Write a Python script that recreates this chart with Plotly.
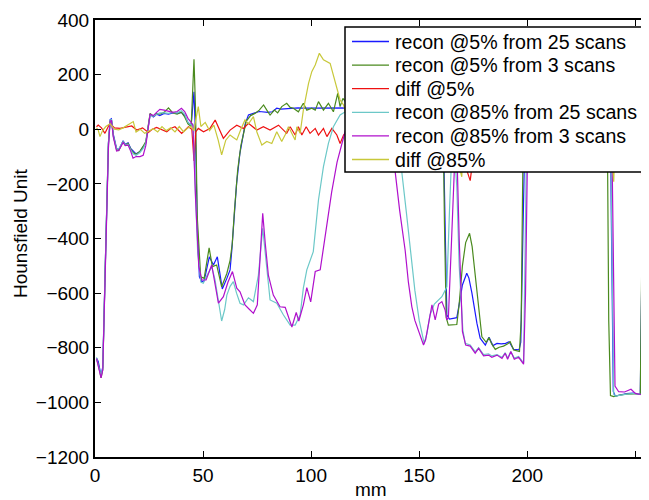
import plotly.graph_objects as go

# ---- data (x in mm, y in Hounsfield units) ----
recon5_25 = [(0.7,-838),(1.5,-850),(2.8,-902),(3.6,-870),(4.9,-450),(6.2,-50),(7.0,35),(7.6,38),(8.5,-20),(10,-70),(11,-75),(12,-60),(13,-42),(14,-55),(15.3,-50),(16.5,-70),(17.6,-80),(19,-90),(20.8,-82),(22.3,-64),(23.5,-50),(25.5,55),(27,45),(28.5,55),(30,50),(32,58),(34,55),(36,60),(38,58),(40,62),(41.5,50),(43,25),(44.5,15),(45.8,137),(46.5,-20),(47.3,-350),(48.3,-540),(49.4,-558),(50.5,-555),(52.9,-467),(54.8,-497),(56.6,-467),(58.9,-585),(61,-546),(62.5,-515),(63.3,-443),(64,-370),(65.5,-200),(67,-90),(68,-39),(69.5,20),(71,52),(72.5,55),(74,60),(76,65),(78,64),(80,62),(82,64),(84.1,77),(86,74),(88,75),(90,77),(92,76),(94,78),(96,77),(98,77),(100,76),(102,78),(104,77),(106,76),(108,78),(110,77),(112,76),(114,77),(116,76),(120,78),(125,74),(130,76),(135,75),(140,72),(145,74),(150,78),(155,73),(160,68),(161,60),(162,-400),(162.8,-680),(164,-695),(167.4,-690),(168.3,-650),(170,-570),(172,-527),(173,-545),(174.4,-600),(176.7,-710),(178.2,-765),(180.6,-790),(182.3,-762),(184.1,-792),(186,-784),(188,-786),(190,-784),(191.6,-778),(193.7,-806),(196.2,-808),(197,-780),(198,-300),(199,20),(205,40),(215,50),(225,45),(235,40),(238.4,30),(239,-500),(239.8,-960),(240.7,-977),(243,-972),(246,-968),(249,-966),(251.5,-967),(252.3,-970),(253,-527),(253.8,-980)]

recon5_3 = [(0.7,-840),(1.5,-860),(2.8,-910),(3.6,-880),(4.9,-455),(6.2,-55),(7.0,30),(7.6,35),(8.5,-25),(10,-75),(11,-78),(12,-62),(13,-45),(14,-58),(15.3,-52),(16.5,-72),(17.6,-85),(19,-92),(20.8,-80),(22.3,-62),(23.5,-45),(25.5,58),(27,48),(28.5,58),(30,55),(32,62),(34,78),(36,60),(38,55),(40,62),(41.5,45),(43,20),(44.5,10),(45.8,256),(46.5,80),(47.3,-320),(48.9,-540),(50.5,-546),(52.8,-434),(54.3,-503),(56.3,-497),(58.6,-577),(61,-528),(62.5,-480),(63.5,-420),(64.5,-300),(66,-150),(67.5,-60),(68.5,-20),(70,30),(72,50),(74,58),(76,70),(78,89),(79.5,70),(81,52),(83,70),(84.5,60),(86.4,83),(88.7,95),(90.3,80),(91.8,77),(94.1,64),(96.4,95),(98,70),(100.3,77),(101.9,70),(103.4,101),(105.7,70),(108,95),(110.3,64),(112.3,131),(113.4,83),(114.7,113),(116,100),(118,80),(121,95),(124,70),(128,90),(132,75),(136,92),(140,70),(145,88),(150,75),(155,90),(159,70),(161,60),(161.7,-350),(162.5,-690),(163.5,-717),(167.4,-715),(168.5,-640),(170,-500),(171.5,-415),(173.3,-381),(174.5,-430),(176,-540),(177.5,-660),(179,-760),(181,-780),(182.3,-763),(183.5,-785),(185.2,-806),(187,-798),(189,-794),(191,-785),(192.1,-778),(193.7,-808),(196.4,-814),(197.2,-700),(198,-100),(199,60),(210,70),(220,60),(230,55),(237,50),(237.7,-700),(238.5,-975),(240,-979),(243,-973),(246,-970),(249,-968),(252.3,-968),(253.2,-326),(254,-1022)]

diff5 = [(0.7,9),(1.5,15),(3,5),(4.6,-15),(6.9,22),(9,5),(11.6,3),(14,8),(17,12),(19.3,-3),(22,5),(24.7,-12),(26.5,0),(28.5,7),(31,-2),(33.2,-9),(35,3),(37,9),(40.1,-15),(43.2,9),(44.8,0),(45.8,-116),(46.6,-10),(47.8,3),(50.2,-9),(53.2,3),(55.6,34),(57.5,0),(59.4,-33),(62.5,-3),(65.6,15),(68.7,3),(71,22),(74.9,-3),(77.9,9),(81,-3),(84.9,15),(88.7,-15),(90.3,9),(92.6,-21),(94.1,9),(95.7,-21),(97.7,9),(99.5,-15),(101.9,3),(103.4,-21),(105.7,3),(107.3,-27),(109.6,3),(111.9,-21),(113.4,-52),(115,-21),(118,5),(125,-10),(132,8),(140,-5),(150,6),(158,-4),(161.5,120),(162.5,10),(165,25),(168,-10),(170,-70),(172,-150),(173.6,-188),(175,-100),(177,-40),(180,-10),(185,10),(190,0),(194,2),(197.2,-60),(198,-20),(200,5),(210,-8),(220,6),(230,-5),(237,3),(237.7,150),(238.5,20),(240,2),(245,0),(252.3,-2),(253,-198),(253.8,-10)]

recon85_25 = [(0.7,-835),(1.5,-865),(2.8,-900),(3.6,-875),(4.9,-460),(6.2,-60),(7.0,33),(7.6,35),(8.5,-25),(10,-72),(11,-72),(12,-58),(13,-45),(14,-55),(15.3,-55),(16.5,-75),(17.6,-90),(19,-95),(20.8,-85),(22.3,-70),(23.5,-50),(25.5,50),(27,48),(28.5,55),(30,60),(32,60),(34,58),(36,62),(38,60),(40,68),(41.5,55),(43,25),(44.5,15),(45.3,20),(46.2,-150),(47.5,-450),(49,-560),(50.1,-564),(51.5,-540),(54,-503),(55.5,-550),(57.1,-631),(58.6,-702),(60,-660),(61,-607),(62.5,-575),(64,-558),(65.5,-600),(67.1,-637),(68.7,-643),(71,-617),(73.3,-631),(75.6,-534),(77.6,-363),(79.5,-520),(81,-625),(84.1,-637),(87.2,-680),(90.3,-717),(92.6,-717),(94.9,-680),(96.4,-582),(98,-515),(101,-448),(103.4,-259),(105.7,-137),(108,-52),(110.3,9),(113.4,52),(116,65),(120,70),(125,68),(130,72),(135,66),(139,62),(140.5,20),(142,-160),(144,-300),(145.8,-442),(148,-590),(150,-700),(152.3,-784),(153.5,-750),(155,-680),(157,-640),(159,-625),(160.5,-613),(162,-590),(162.8,-577),(164,-300),(165,-100),(166.5,-100),(167.4,-210),(168.5,-500),(170.2,-735),(171.3,-784),(173.6,-790),(175.9,-815),(177.5,-800),(179.8,-825),(182.1,-822),(183.6,-830),(186,-825),(188.3,-835),(189.8,-818),(190.9,-838),(192.4,-815),(194,-838),(196,-832),(198.3,-855),(198.8,-600),(199.5,-150),(200.5,30),(210,50),(220,45),(230,50),(238.5,40),(239.2,-500),(240,-970),(240.7,-977),(243,-973),(246,-970),(249,-968),(251.5,-968),(253.8,-975)]

recon85_3 = [(0.7,-840),(1.5,-872),(2.8,-910),(3.6,-880),(4.9,-470),(6.2,-70),(7.0,30),(7.6,32),(8.5,-30),(10,-80),(11,-78),(12,-60),(13,-48),(14,-60),(15.3,-58),(16.5,-80),(17.6,-106),(19,-100),(20.8,-100),(22.3,-95),(23.5,-60),(25.5,55),(27,50),(28.5,62),(30,73),(32,70),(34,65),(36,62),(38,65),(40,77),(41.5,65),(43,40),(44.5,25),(45.3,15),(46.5,-250),(48,-500),(49.4,-552),(51.4,-552),(54,-497),(55.6,-570),(57.1,-637),(59.4,-613),(61.5,-560),(63.6,-521),(65.6,-582),(67.1,-595),(69.4,-643),(71.5,-660),(73.3,-674),(75.1,-643),(76.5,-450),(77.6,-308),(78.8,-420),(80.2,-534),(82.5,-607),(85.6,-650),(88,-652),(89.5,-690),(91.1,-724),(93.1,-671),(94.3,-702),(96.4,-643),(98,-580),(99.8,-632),(101.9,-521),(104.2,-515),(106,-420),(107.5,-330),(109.5,-230),(112,-120),(114.5,-40),(116,0),(118,50),(122,65),(128,70),(133,62),(137.5,50),(138.9,-157),(141,-300),(143.5,-443),(145,-560),(146.6,-650),(148,-700),(150,-745),(152,-790),(153,-770),(154.5,-700),(155.9,-643),(157.4,-698),(159,-640),(160.5,-631),(162,-662),(162.8,-698),(163.5,-690),(165,-400),(166.5,-100),(167.5,-100),(168.5,-400),(170,-740),(171.5,-790),(173.6,-794),(175.9,-820),(177.5,-802),(179.8,-830),(182.1,-827),(183.6,-835),(186,-827),(188.3,-839),(189.8,-820),(190.9,-842),(192.4,-814),(194,-842),(196,-835),(198.3,-860),(199.2,-600),(200,-150),(201,30),(210,60),(220,50),(230,55),(239,45),(239.8,-500),(240.6,-940),(242.3,-961),(245,-962),(248,-952),(250,-967),(253.8,-973)]

diff85 = [(0.7,5),(1.5,-3),(2.3,-27),(3.5,-5),(5,10),(7,20),(9,0),(11,-2),(13,5),(15,15),(17.7,28),(19,-10),(21,0),(23,-15),(25,-5),(27,2),(29,-10),(31,10),(33,-5),(35,5),(37,-10),(39,10),(41,-10),(43,5),(44.5,10),(45.8,-5),(46.5,30),(47.8,83),(49,10),(51,25),(53,-5),(55,15),(57,-40),(58.6,-94),(60.5,-40),(62.5,-21),(64,-30),(65.6,-39),(67.5,0),(69.4,34),(71,20),(73.3,46),(74.9,-10),(77.2,-58),(79.5,-45),(81.8,-52),(84.1,-9),(86.4,-45),(88,-20),(89.5,9),(90.3,-3),(92.6,-39),(93.4,9),(94.9,-15),(96.4,70),(98.8,168),(100.3,211),(101.9,235),(103.8,278),(105.7,254),(108.8,241),(111.9,156),(113.4,107),(115,89),(117,30),(120,-10),(125,15),(130,-5),(135,10),(138.5,20),(140,180),(142,300),(144,220),(146.6,200),(149,40),(152,6),(155,-30),(158,40),(161,30),(162.8,121),(164,300),(166,0),(167.4,-100),(169.7,-174),(170.5,20),(172,10),(175,5),(180,5),(185,0),(190,5),(195,5),(198.3,5),(199,250),(200,100),(201,0),(210,-10),(220,0),(230,-5),(238,0),(239.2,-100),(240,-192),(240.7,-20),(243,-12),(248,-16),(252,0),(253.8,-2)]

series_names = ["recon @5% from 25 scans", "recon @5% from 3 scans", "diff @5%",
                "recon @85% from 25 scans", "recon @85% from 3 scans", "diff @85%"]
series_data = [recon5_25, recon5_3, diff5, recon85_25, recon85_3, diff85]
series_colors = ["#1a1aff", "#4a8a1e", "#ee1111", "#6cc8c8", "#b010cc", "#c8c83a"]

x_ticks = [0, 50, 100, 150, 200, 250]
y_ticks = [-1200, -1000, -800, -600, -400, -200, 0, 200, 400]

FONT = "Liberation Sans, Arial, Helvetica, sans-serif"

# The page body has an 8px default margin, so the figure is drawn 8px smaller
# and all layout positions below are given in window pixels minus that offset.
OFF = 8
W, H = 649 - OFF, 500 - OFF
ML, MR, MT, MB = 95 - OFF, 2, 20 - OFF, 43
PW, PH = W - ML - MR, H - MT - MB


def px_x(px):
    return (px - OFF - ML) / PW


def px_y(py):
    return (H - MB - (py - OFF)) / PH


fig = go.Figure()
for name, pts, col in zip(series_names, series_data, series_colors):
    fig.add_trace(go.Scatter(
        x=[p[0] for p in pts], y=[p[1] for p in pts], name=name,
        mode="lines", line=dict(color=col, width=1.2), showlegend=False))

axis_common = dict(showline=True, linecolor="black", linewidth=2, mirror="ticks",
                   ticks="inside", ticklen=6, tickwidth=1.3, tickcolor="black",
                   showgrid=False, zeroline=False, automargin=False,
                   tickfont=dict(family=FONT, size=19, color="black"))

# legend drawn as a box with sample lines and text (matching MATLAB spacing)
shapes = [dict(type="rect", xref="paper", yref="paper",
               x0=px_x(345), x1=px_x(642), y0=px_y(172), y1=px_y(27),
               fillcolor="white", line=dict(color="black", width=1.5), layer="above")]
annotations = []
for i, (name, col) in enumerate(zip(series_names, series_colors)):
    cy = 41.5 + 23.6 * i
    shapes.append(dict(type="line", xref="paper", yref="paper",
                       x0=px_x(352), x1=px_x(389), y0=px_y(cy), y1=px_y(cy),
                       line=dict(color=col, width=1.3), layer="above"))
    annotations.append(dict(xref="paper", yref="paper", x=px_x(393), y=px_y(cy),
                            xanchor="left", yanchor="middle", text=name, showarrow=False,
                            font=dict(family=FONT, size=19.6, color="black")))

annotations.append(dict(xref="paper", yref="paper", x=px_x(371), y=px_y(489),
                        xanchor="center", yanchor="middle", text="mm", showarrow=False,
                        font=dict(family=FONT, size=19, color="black")))
annotations.append(dict(xref="paper", yref="paper", x=px_x(20), y=px_y(233),
                        xanchor="center", yanchor="middle", text="Hounsfield Unit",
                        textangle=-90, showarrow=False,
                        font=dict(family=FONT, size=19, color="black")))

fig.update_layout(
    width=W, height=H,
    margin=dict(l=ML, r=MR, t=MT, b=MB),
    paper_bgcolor="white", plot_bgcolor="white",
    font=dict(family=FONT, size=19, color="black"),
    xaxis=dict(range=[0, 255.4], tickvals=x_ticks, ticktext=[str(v) for v in x_ticks],
               ticklabelstandoff=0, **axis_common),
    yaxis=dict(range=[-1200, 400], tickvals=y_ticks,
               ticktext=[str(v).replace("-", "\u2212") for v in y_ticks],
               ticklabelstandoff=0, **axis_common),
    shapes=shapes, annotations=annotations,
    showlegend=False,
)

fig.write_html("out.html")
